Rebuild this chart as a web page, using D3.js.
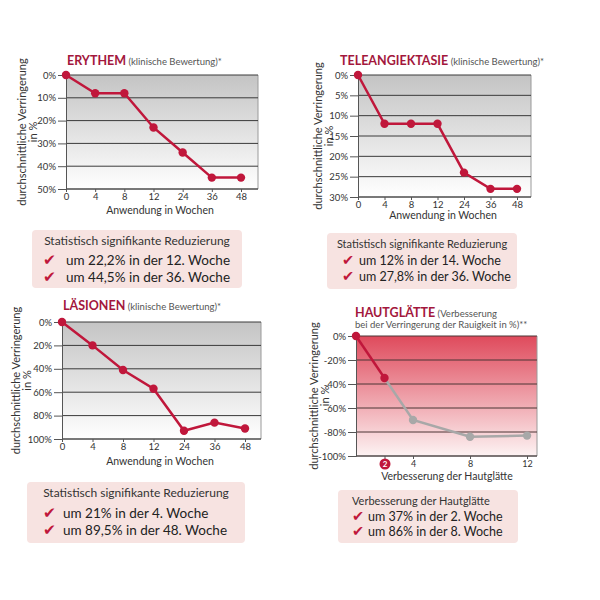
<!DOCTYPE html>
<html>
<head>
<meta charset="utf-8">
<script src="https://cdn.jsdelivr.net/npm/d3@7"></script>
<style>
  body { margin: 0; background: #fff; }
  svg { font-family: Lato, "Noto Sans", sans-serif; }
</style>
</head>
<body>
<div id="chart-area"></div>
<script>
// data
var weeks = ["0", "4", "8", "12", "24", "36", "48"];

var erythemValues = [0, 8, 8, 23, 34, 45, 45];
var erythemTicks = [0, 10, 20, 30, 40, 50];

var teleaValues = [0, 12, 12, 12, 24, 28, 28];
var teleaTicks = [0, 5, 10, 15, 20, 25, 30];

var laesionValues = [0, 20, 41, 57, 93, 86, 91];
var laesionTicks = [0, 20, 40, 60, 80, 100];

var hautWeeks = [0, 2, 4, 8, 12];
var hautValues = [0, -35, -70, -84, -83];
var hautTicks = [0, -20, -40, -60, -80, -100];
var hautXTicks = [2, 4, 8, 12];

var erythemNotes = ["Statistisch signifikante Reduzierung", "um 22,2% in der 12. Woche", "um 44,5% in der 36. Woche"];
var teleaNotes = ["Statistisch signifikante Reduzierung", "um 12% in der 14. Woche", "um 27,8% in der 36. Woche"];
var laesionNotes = ["Statistisch signifikante Reduzierung", "um 21% in der 4. Woche", "um 89,5% in der 48. Woche"];
var hautNotes = ["Verbesserung der Hautglätte", "um 37% in der 2. Woche", "um 86% in der 8. Woche"];

var RED = "#c0173b";
var TITLE = "#a3173c";
var GREY = "#a8a8a8";

var svg = d3.select("#chart-area")
  .append("svg")
    .attr("width", 600)
    .attr("height", 600);

var defs = svg.append("defs");
var gray = defs.append("linearGradient").attr("id", "grayGrad")
    .attr("x1", 0).attr("y1", 0).attr("x2", 0).attr("y2", 1);
gray.append("stop").attr("offset", "0%").attr("stop-color", "#c4c4c4");
gray.append("stop").attr("offset", "100%").attr("stop-color", "#ffffff");
var red = defs.append("linearGradient").attr("id", "redGrad")
    .attr("x1", 0).attr("y1", 0).attr("x2", 0).attr("y2", 1);
red.append("stop").attr("offset", "0%").attr("stop-color", "#df4a5c");
red.append("stop").attr("offset", "100%").attr("stop-color", "#fdf3f3");

function drawPlot(p) {
    var g = svg.append("g");

    g.append("rect")
        .attr("x", p.left).attr("y", p.top)
        .attr("width", p.right - p.left).attr("height", p.bottom - p.top)
        .attr("fill", p.fill);
    // right border
    g.append("line")
        .attr("x1", p.right).attr("x2", p.right)
        .attr("y1", p.top).attr("y2", p.bottom)
        .attr("stroke", "#9a9a9a");

    // grid lines
    g.selectAll(".grid").data(p.yTicks).enter()
      .append("line")
        .attr("x1", p.left).attr("x2", p.right)
        .attr("y1", (d) => p.y(d)).attr("y2", (d) => p.y(d))
        .attr("stroke", p.gridColor).attr("stroke-width", 1);

    var yAxis = d3.axisLeft(p.y)
        .tickValues(p.yTicks)
        .tickSize(8)
        .tickPadding(2)
        .tickFormat((d) => d + "%");
    var ya = g.append("g")
        .attr("transform", "translate(" + p.left + ",0)")
        .call(yAxis);
    ya.selectAll("text").attr("font-size", "9.5px").attr("fill", "#333").attr("font-family", "Lato");
    ya.selectAll("line").attr("stroke", "#555");
    ya.select(".domain").attr("stroke", "#555");

    var xAxis = d3.axisBottom(p.x)
        .tickSize(3)
        .tickSizeOuter(0)
        .tickPadding(1.5);
    if (p.xTicks) xAxis.tickValues(p.xTicks);
    var xa = g.append("g")
        .attr("transform", "translate(0," + p.bottom + ")")
        .call(xAxis);
    xa.select(".domain").remove();
    xa.selectAll("text").attr("font-size", p.xTickSize || "9.5px").attr("fill", "#333").attr("font-family", "Lato");
    xa.selectAll("line").attr("stroke", "#555");
    g.append("line")
        .attr("x1", p.left).attr("x2", p.right)
        .attr("y1", p.bottom).attr("y2", p.bottom)
        .attr("stroke", "#555");

    // titles
    var t = g.append("text")
        .attr("x", p.titleX).attr("y", p.titleY);
    t.append("tspan")
        .attr("font-weight", "bold").attr("font-size", "12.5px").attr("fill", TITLE)
        .text(p.title);
    t.append("tspan")
        .attr("font-size", "9.5px").attr("fill", "#555")
        .text(" " + p.subtitle);
    if (p.subtitle2) {
        g.append("text")
            .attr("x", p.titleX).attr("y", p.titleY + 11)
            .attr("font-size", "9.5px").attr("fill", "#555")
            .text(p.subtitle2);
    }

    var yMid = (p.top + p.bottom) / 2;
    g.append("text")
        .attr("transform", "translate(" + p.yLabelX + "," + yMid + ") rotate(-90)")
        .attr("text-anchor", "middle")
        .attr("dy", "0.35em")
        .attr("font-size", "11px").attr("fill", "#333")
        .text("durchschnittliche Verringerung");
    g.append("text")
        .attr("transform", "translate(" + (p.yLabelX + 11) + "," + yMid + ") rotate(-90)")
        .attr("text-anchor", "middle")
        .attr("dy", "0.35em")
        .attr("font-size", "11px").attr("fill", "#333")
        .text("in %");

    g.append("text")
        .attr("x", p.xLabelX).attr("y", p.bottom + p.xLabelDy)
        .attr("text-anchor", "middle")
        .attr("font-size", "10.5px").attr("fill", "#333")
        .text(p.xLabel);

    return g;
}

function drawNotes(b) {
    var g = svg.append("g");
    g.append("rect")
        .attr("x", b.x).attr("y", b.y)
        .attr("width", b.w).attr("height", b.h)
        .attr("rx", 4)
        .attr("fill", "#f7e3e1");
    g.append("text")
        .attr("x", b.center ? b.x + b.w / 2 : b.textX)
        .attr("y", b.y + b.head)
        .attr("text-anchor", b.center ? "middle" : "start")
        .attr("font-size", b.headSize + "px").attr("fill", "#333")
        .text(b.notes[0]);
    b.notes.slice(1).forEach((d, i) => {
        var yy = b.y + b.line1 + i * b.gap;
        g.append("text")
            .attr("x", b.checkX).attr("y", yy)
            .attr("font-family", "DejaVu Sans")
            .attr("font-size", (b.lineSize + 2) + "px").attr("fill", RED)
            .text("\u2714");
        g.append("text")
            .attr("x", b.checkX + b.indent).attr("y", yy)
            .attr("font-size", b.lineSize + "px").attr("fill", "#222")
            .text(d);
    });
}

function drawWeekPanel(p, values) {
    p.x = d3.scalePoint().domain(weeks).range([p.left, p.lastX]);
    p.y = d3.scaleLinear().domain([0, d3.max(p.yTicks)]).range([p.top, p.bottom]);
    p.fill = "url(#grayGrad)";
    p.gridColor = "#3a3a3a";
    var g = drawPlot(p);

    var line = d3.line()
        .x((d, i) => p.x(weeks[i]))
        .y((d) => p.y(d));
    g.append("path")
        .attr("d", line(values))
        .attr("fill", "none")
        .attr("stroke", RED)
        .attr("stroke-width", 2.5);
    g.selectAll(".pt").data(values).enter()
      .append("circle")
        .attr("cx", (d, i) => p.x(weeks[i]))
        .attr("cy", (d) => p.y(d))
        .attr("r", 4.2)
        .attr("fill", RED);
}

drawWeekPanel({
    left: 66, right: 258, top: 75, bottom: 189, lastX: 241,
    yTicks: erythemTicks,
    title: "ERYTHEM", subtitle: "(klinische Bewertung)*",
    titleX: 67, titleY: 65,
    yLabelX: 22, xLabelX: 160, xLabelDy: 25, xLabel: "Anwendung in Wochen"
}, erythemValues);

drawWeekPanel({
    left: 358, right: 531, top: 75, bottom: 197, lastX: 517,
    yTicks: teleaTicks,
    title: "TELEANGIEKTASIE", subtitle: "(klinische Bewertung)*",
    titleX: 340, titleY: 65,
    yLabelX: 318, xLabelX: 443, xLabelDy: 22, xLabel: "Anwendung in Wochen"
}, teleaValues);

drawWeekPanel({
    left: 62, right: 261, top: 322, bottom: 439, lastX: 245,
    yTicks: laesionTicks,
    title: "LÄSIONEN", subtitle: "(klinische Bewertung)*",
    titleX: 63, titleY: 310,
    yLabelX: 16, xLabelX: 160, xLabelDy: 26, xLabel: "Anwendung in Wochen"
}, laesionValues);

// Hautglätte panel
(function () {
    var p = {
        left: 356, right: 537, top: 336, bottom: 456,
        yTicks: hautTicks, xTicks: hautXTicks, xTickSize: "9px",
        title: "HAUTGLÄTTE", subtitle: "(Verbesserung",
        subtitle2: "bei der Verringerung der Rauigkeit in %)**",
        titleX: 355, titleY: 317,
        yLabelX: 314, xLabelX: 447, xLabelDy: 24, xLabel: "Verbesserung der Hautglätte"
    };
    p.x = d3.scaleLinear().domain([0, 12.7]).range([p.left, p.right]);
    p.y = d3.scaleLinear().domain([0, -100]).range([p.top, p.bottom]);
    p.fill = "url(#redGrad)";
    p.gridColor = "#4a3434";
    var g = drawPlot(p);

    // highlighted week 2 tick label
    var tick2 = g.selectAll(".tick").filter((d) => d === 2);
    tick2.insert("circle", "text")
        .attr("cy", 8).attr("r", 5.5).attr("fill", RED);
    tick2.select("text").attr("fill", "#fff").attr("font-weight", "bold").attr("font-size", "8px").attr("y", 5);

    var pts = hautValues.map((v, i) => [hautWeeks[i], v]);
    var line = d3.line()
        .x((d) => p.x(d[0]))
        .y((d) => p.y(d[1]));
    g.append("path")
        .attr("d", line(pts.slice(1)))
        .attr("fill", "none")
        .attr("stroke", GREY)
        .attr("stroke-width", 2.5);
    g.append("path")
        .attr("d", line(pts.slice(0, 2)))
        .attr("fill", "none")
        .attr("stroke", RED)
        .attr("stroke-width", 2.5);
    g.selectAll(".pt").data(pts).enter()
      .append("circle")
        .attr("cx", (d) => p.x(d[0]))
        .attr("cy", (d) => p.y(d[1]))
        .attr("r", 4.2)
        .attr("fill", (d, i) => i < 2 ? RED : GREY);
})();

drawNotes({ x: 32, y: 230, w: 210, h: 58, notes: erythemNotes, center: true, head: 15,
    headSize: 12, lineSize: 13.5, checkX: 43, indent: 23, line1: 35, gap: 17 });
drawNotes({ x: 327, y: 233, w: 190, h: 56, notes: teleaNotes, center: true, head: 15,
    headSize: 11, lineSize: 12.5, checkX: 342, indent: 17, line1: 32, gap: 16 });
drawNotes({ x: 27, y: 482, w: 218, h: 61, notes: laesionNotes, center: true, head: 15,
    headSize: 12, lineSize: 13.5, checkX: 43, indent: 20, line1: 36, gap: 17 });
drawNotes({ x: 338, y: 490, w: 180, h: 53, notes: hautNotes, center: false, textX: 352, head: 15,
    headSize: 11, lineSize: 12.5, checkX: 352, indent: 16, line1: 31, gap: 15 });
</script>
</body>
</html>
